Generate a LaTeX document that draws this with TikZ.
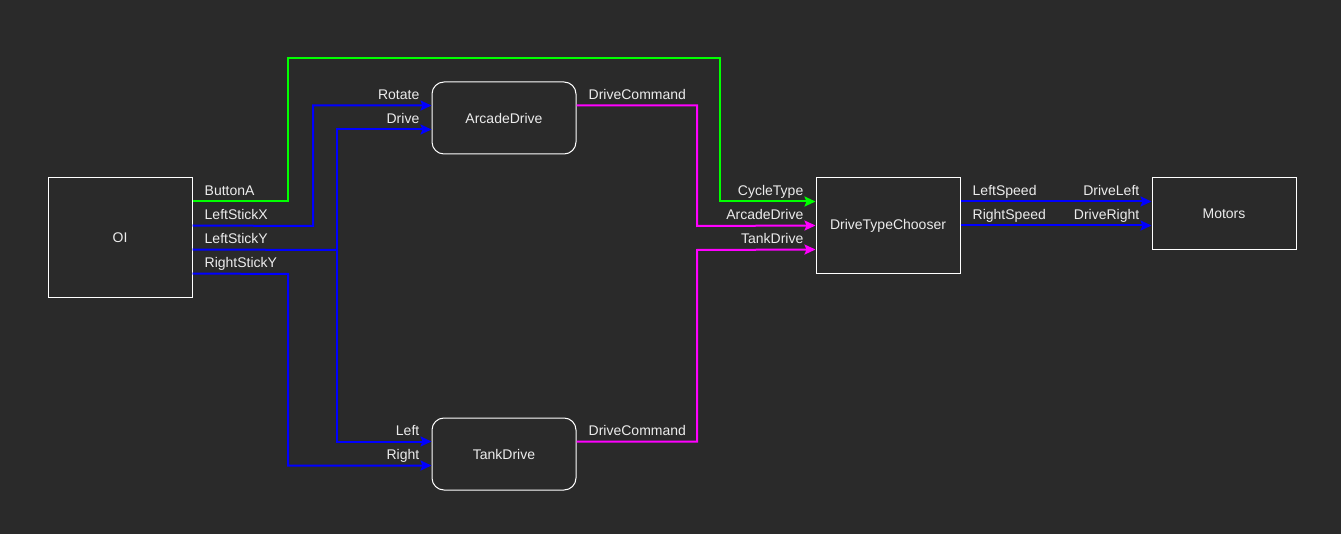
\documentclass[tikz,border=0pt]{standalone}
\usepackage{fontspec}
\setmainfont{Liberation Sans}
\usetikzlibrary{arrows.meta,calc}
\definecolor{bg}{HTML}{2A2A2A}
\definecolor{txt}{HTML}{ECECEC}
\definecolor{wiregreen}{HTML}{00FF00}
\definecolor{wireblue}{HTML}{0000FF}
\definecolor{wiremag}{HTML}{FF00FF}
\tikzset{
  blk/.style={draw=white, line width=1pt, fill=bg, inner sep=0pt, minimum width=144pt, text=txt, font=\fontsize{14}{16}\selectfont},
  rblk/.style={blk, rounded corners=12pt},
  wire/.style={line width=2pt, -{Stealth[length=11pt,width=10pt,inset=2pt]}},
  plain/.style={line width=2pt},
  lbl/.style={text=txt, inner sep=0pt, font=\fontsize{14}{16}\selectfont},
  outl/.style={lbl, anchor=base west},
  inl/.style={lbl, anchor=base east}
}
\begin{document}
\begin{tikzpicture}[x=1pt,y=-1pt]
\fill[bg] (0,0) rectangle (1341,534);
\useasboundingbox (0,0) rectangle (1341,534);
% blocks
\node[blk, minimum height=120pt] (oi) at (120,238) {OI};
\node[rblk, minimum height=72pt] (ad) at (504,118) {ArcadeDrive};
\node[rblk, minimum height=72pt] (td) at (504,454) {TankDrive};
\node[blk, minimum height=96pt] (dtc) at (888,226) {DriveTypeChooser};
\node[blk, minimum height=72pt] (mot) at (1224,214) {Motors};
% ports
\coordinate (oiA) at ($(oi.north east)+(0,24)$);
\coordinate (oiX) at ($(oi.north east)+(0,48)$);
\coordinate (oiY) at ($(oi.north east)+(0,72)$);
\coordinate (oiR) at ($(oi.north east)+(0,96)$);
\coordinate (adR) at ($(ad.north west)+(0,24)$);
\coordinate (adD) at ($(ad.north west)+(0,48)$);
\coordinate (adO) at ($(ad.north east)+(0,24)$);
\coordinate (tdL) at ($(td.north west)+(0,24)$);
\coordinate (tdR) at ($(td.north west)+(0,48)$);
\coordinate (tdO) at ($(td.north east)+(0,24)$);
\coordinate (dtcC) at ($(dtc.north west)+(0,24)$);
\coordinate (dtcA) at ($(dtc.north west)+(0,48)$);
\coordinate (dtcT) at ($(dtc.north west)+(0,72)$);
\coordinate (dtcL) at ($(dtc.north east)+(0,24)$);
\coordinate (dtcR) at ($(dtc.north east)+(0,48)$);
\coordinate (motL) at ($(mot.north west)+(0,24)$);
\coordinate (motR) at ($(mot.north west)+(0,48)$);
\coordinate (jY) at (337,250);
% wires
\draw[wire, wiregreen] (oiA) -| (288,58) -- (720,58) |- (dtcC);
\draw[wire, wireblue] (oiX) -- (313,226) |- (adR);
\draw[plain, wireblue] (oiY) -- (jY);
\draw[wire, wireblue] (jY) |- (adD);
\draw[wire, wireblue] (jY) |- (tdL);
\draw[wire, wireblue] (oiR) -- (288,274) |- (tdR);
\draw[wire, wiremag] (adO) -| (697,226) -- (dtcA);
\draw[wire, wiremag] (tdO) -| (697,250) -- (dtcT);
\draw[wire, wireblue] (dtcL) -- (motL);
\draw[wire, wireblue] (dtcR) -- (motR);
% labels
\node[outl] (lA) at ($(oiA)+(12,-6)$) {ButtonA};
\node[outl] (lX) at ($(oiX)+(12,-6)$) {LeftStickX};
\node[outl] (lY) at ($(oiY)+(12,-6)$) {LeftStickY};
\node[outl] (lRY) at ($(oiR)+(12,-6)$) {RightStickY};
\node[inl] (lRot) at ($(adR)+(-12,-6)$) {Rotate};
\node[inl] (lDrv) at ($(adD)+(-12,-6)$) {Drive};
\node[outl] (lAdO) at ($(adO)+(12,-6)$) {DriveCommand};
\node[inl] (lLeft) at ($(tdL)+(-12,-6)$) {Left};
\node[inl] (lRight) at ($(tdR)+(-12,-6)$) {Right};
\node[outl] (lTdO) at ($(tdO)+(12,-6)$) {DriveCommand};
\node[inl] (lCyc) at ($(dtcC)+(-12,-6)$) {CycleType};
\node[inl] (lArc) at ($(dtcA)+(-12,-6)$) {ArcadeDrive};
\node[inl] (lTank) at ($(dtcT)+(-12,-6)$) {TankDrive};
\node[outl] (lLS) at ($(dtcL)+(12,-6)$) {LeftSpeed};
\node[outl] (lRS) at ($(dtcR)+(12,-6)$) {RightSpeed};
\node[inl] (lDL) at ($(motL)+(-12,-6)$) {DriveLeft};
\node[inl] (lDR) at ($(motR)+(-12,-6)$) {DriveRight};
\end{tikzpicture}
\end{document}
